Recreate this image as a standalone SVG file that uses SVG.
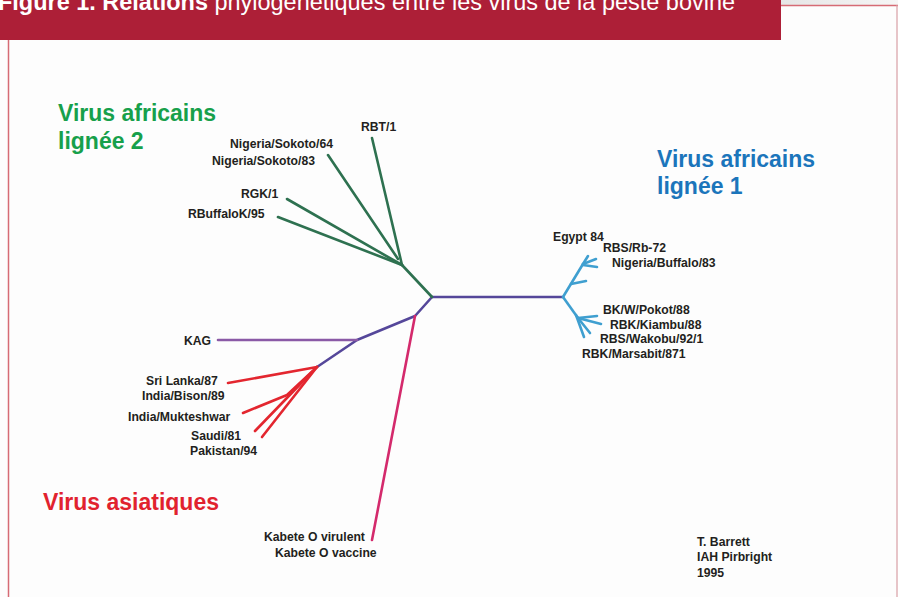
<svg xmlns="http://www.w3.org/2000/svg" width="898" height="597" viewBox="0 0 898 597">
<defs>
<linearGradient id="gr" x1="0" y1="0" x2="1" y2="0">
<stop offset="0" stop-color="#e6e6e6"/><stop offset="1" stop-color="#f6f6f6"/>
</linearGradient>
</defs>
<style>
.lbl{font-family:"Liberation Sans",Arial,sans-serif;font-weight:bold;font-size:12.2px;fill:#231f20}
.ttl{font-family:"Liberation Sans",Arial,sans-serif;font-weight:bold;font-size:23px}
.br{fill:none;stroke-width:2.6;stroke-linecap:round;stroke-linejoin:round}
.g{stroke:#2e7150}
.p{stroke:#55479a}
.k{stroke:#8a5aa6}
.b{stroke:#3f9fd0}
.r{stroke:#e3262f}
.m{stroke:#d42a6c}
</style>
<rect x="0" y="0" width="898" height="597" fill="#fdfdfd"/>
<rect x="781" y="0" width="117" height="5" fill="url(#gr)"/>
<line x1="781" y1="5.5" x2="898" y2="5.5" stroke="#d66b75" stroke-width="1.5"/>
<line x1="8.5" y1="40" x2="8.5" y2="597" stroke="#d66b75" stroke-width="1.5"/>
<line x1="897" y1="5" x2="897" y2="597" stroke="#d9a0a6" stroke-width="1.2"/>
<g id="header">
<rect x="0" y="0" width="781" height="40" fill="#ad1f37"/>
<text x="-2" y="10" font-family="'Liberation Sans',Arial,sans-serif" font-size="24" fill="#ffffff" textLength="737" lengthAdjust="spacingAndGlyphs"><tspan font-weight="bold">Figure 1. Relations</tspan> phylogénétiques entre les virus de la peste bovine</text>
</g>
<g id="connectors">
<path class="br p" d="M432,297 L563,297"/>
<path class="br p" d="M432,297 L415,316 L357,340 L317,367"/>
<path class="br k" d="M218,340 L357,340"/>
<path class="br m" d="M415,316 L372,540"/>
<path class="br g" d="M432,297 L402,265"/>
<path class="br g" d="M402,265 L372,138"/>
<path class="br g" d="M398,259 L328,155"/>
<path class="br g" d="M402,265 L287,199"/>
<path class="br g" d="M402,265 L278,217"/>
<path class="br b" d="M563,297 L583,264"/>
<path class="br b" d="M583,264 L588,256"/>
<path class="br b" d="M583,264 L596,259"/>
<path class="br b" d="M583,265 L597,267"/>
<path class="br b" d="M571,284 L586,281"/>
<path class="br b" d="M563,297 L578,318"/>
<path class="br b" d="M578,318 L597,316"/>
<path class="br b" d="M578,318 L601,324"/>
<path class="br b" d="M578,318 L590,333"/>
<path class="br b" d="M576,315 L584,337"/>
<path class="br r" d="M317,367 L228,383"/>
<path class="br r" d="M317,367 L287,395 L243,413"/>
<path class="br r" d="M312,372 L255,431"/>
<path class="br r" d="M317,367 L262,437"/>
</g>
<g id="group-afr2"><text class="ttl" fill="#17a04b" x="58" y="121">Virus africains</text><text class="ttl" fill="#17a04b" x="58" y="149">lignée 2</text></g>
<g id="group-afr1"><text class="ttl" fill="#1b75bb" x="657" y="167">Virus africains</text><text class="ttl" fill="#1b75bb" x="657" y="194">lignée 1</text></g>
<g id="group-asia"><text class="ttl" fill="#e1222e" x="43" y="510">Virus asiatiques</text></g>
<g id="n-rbt1"><text class="lbl" x="361" y="131">RBT/1</text></g>
<g id="n-ns64"><text class="lbl" x="230" y="148">Nigeria/Sokoto/64</text></g>
<g id="n-ns83"><text class="lbl" x="212" y="165">Nigeria/Sokoto/83</text></g>
<g id="n-rgk1"><text class="lbl" x="241" y="198">RGK/1</text></g>
<g id="n-rbuffalok"><text class="lbl" x="188" y="218">RBuffaloK/95</text></g>
<g id="n-egypt"><text class="lbl" x="553" y="241">Egypt 84</text></g>
<g id="n-rbsrb"><text class="lbl" x="603" y="252">RBS/Rb-72</text></g>
<g id="n-nigbuf"><text class="lbl" x="612" y="267">Nigeria/Buffalo/83</text></g>
<g id="n-pokot"><text class="lbl" x="603" y="314">BK/W/Pokot/88</text></g>
<g id="n-kiambu"><text class="lbl" x="610" y="329">RBK/Kiambu/88</text></g>
<g id="n-wakobu"><text class="lbl" x="600" y="343">RBS/Wakobu/92/1</text></g>
<g id="n-marsabit"><text class="lbl" x="582" y="358">RBK/Marsabit/871</text></g>
<g id="n-kag"><text class="lbl" x="184" y="345">KAG</text></g>
<g id="n-srilanka"><text class="lbl" x="146" y="385">Sri Lanka/87</text></g>
<g id="n-bison"><text class="lbl" x="142" y="400">India/Bison/89</text></g>
<g id="n-mukteshwar"><text class="lbl" x="128" y="421">India/Mukteshwar</text></g>
<g id="n-saudi"><text class="lbl" x="191" y="440">Saudi/81</text></g>
<g id="n-pakistan"><text class="lbl" x="190" y="455">Pakistan/94</text></g>
<g id="n-kabvir"><text class="lbl" x="264" y="541">Kabete O virulent</text></g>
<g id="n-kabvac"><text class="lbl" x="275" y="557">Kabete O vaccine</text></g>
<g id="credit"><text class="lbl" x="697" y="546">T. Barrett</text><text class="lbl" x="697" y="561">IAH Pirbright</text><text class="lbl" x="697" y="577">1995</text></g>
</svg>
